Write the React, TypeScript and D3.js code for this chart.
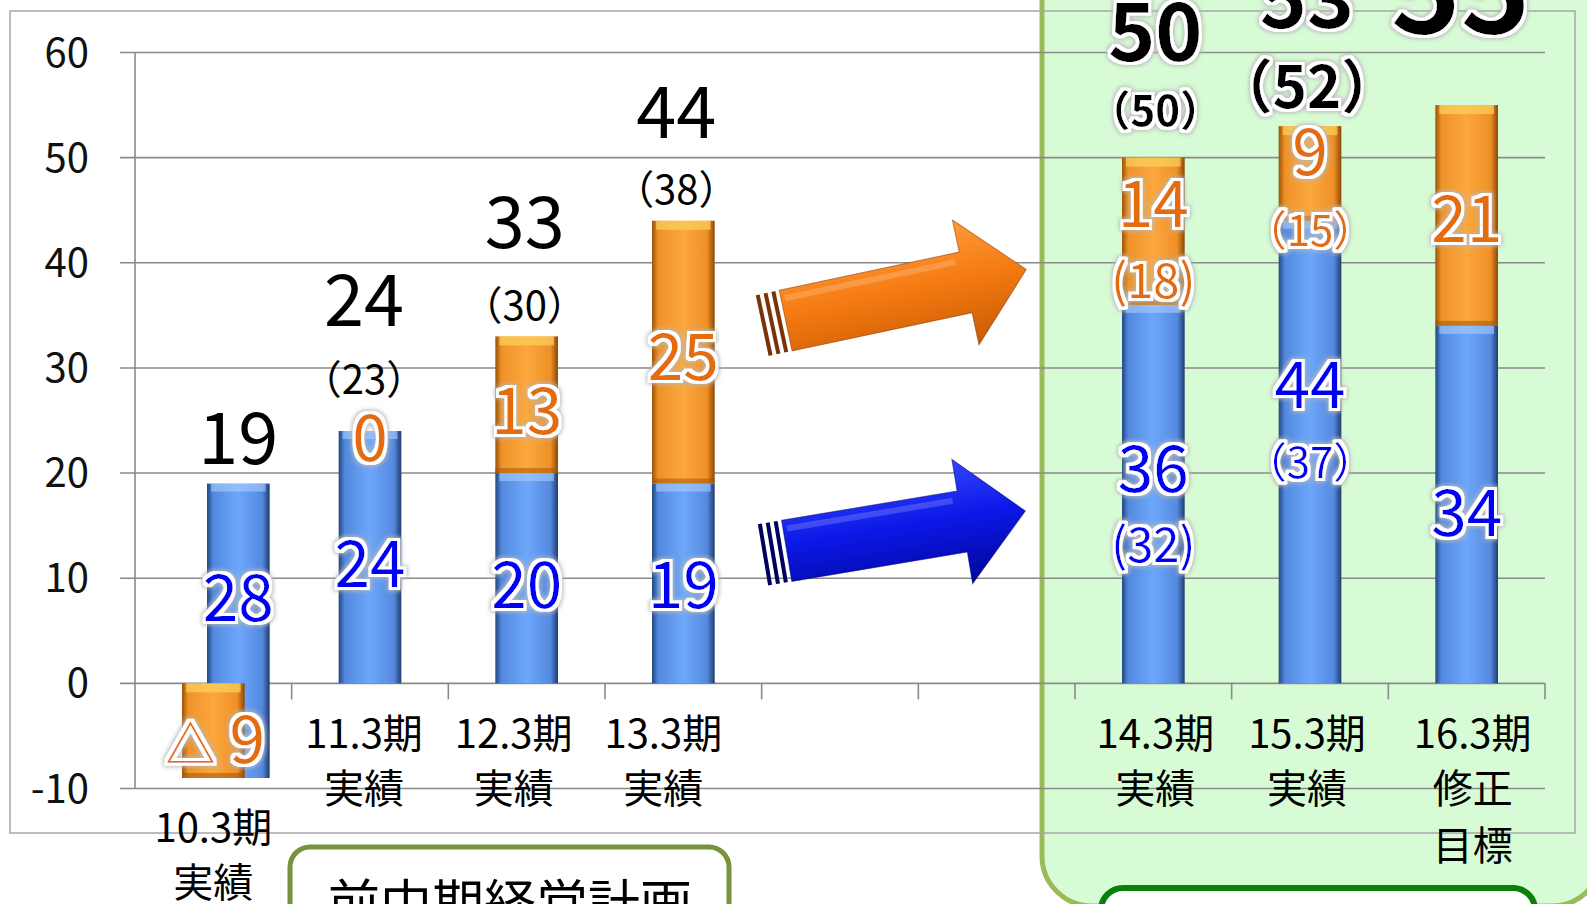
import React from 'react';
import * as d3 from 'd3';

const W = 1587;
const H = 904;

// data
const categories = ['10.3期', '11.3期', '12.3期', '13.3期', '14.3期', '15.3期', '16.3期'];
const subLabels = [['実績'], ['実績'], ['実績'], ['実績'], ['実績'], ['実績'], ['修正', '目標']];
const blueValues = [28, 24, 20, 19, 36, 44, 34];
const orangeValues = [-9, 0, 13, 25, 14, 9, 21];
const totals = [19, 24, 33, 44, 50, 53, 55];
const planTotals = [null, 23, 30, 38, 50, 52, null];
const planOrange = [null, null, null, null, 18, 15, null];
const planBlue = [null, null, null, null, 32, 37, null];
const yTicks = [-10, 0, 10, 20, 30, 40, 50, 60];
const boxTitle = '前中期経営計画';

// layout nudges (pixels), one per category
const blueShift = [25, 0, 0, 0, 0, 0, 0];
const totalFont = [72, 72, 72, 72, 80, 80, 118];
const totalBold = [false, false, false, false, true, true, true];
const totalDy = [-20, -105, -88, -83, -97, -98, -72];
const totalDx = [0, -6, -2, -7, 2, -3, -6];
const planFont = [0, 40, 40, 40, 42, 58, 0];
const planDy = [0, -37, -16, -17, -32, -18, 0];
const blueDy = [-10, 30, 30, 25, -2, -44, 31];
const orangeDy = [32, 30, 29, 28, -4, 2, 27];
const innerPlanAscii = [false, false, false, false, true, false, false];
const xLabelDx = [0, -6, -13, -20, 2, -3, 6];
const xLabelTop = [842, 748, 748, 748, 748, 748, 748];

const FONT = '"Noto Sans CJK JP", "Noto Sans", sans-serif';
const ORANGE_TXT = '#e46c0a';
const BLUE_TXT = '#0000f5';

const slots = [...categories.slice(0, 4), 'gap-a', 'gap-b', ...categories.slice(4)];

const x = d3.scaleBand<string>().domain(slots).range([135, 1545]).paddingInner(0.6).paddingOuter(0.3);
const y = d3.scaleLinear().domain([-10, 60]).range([788.5, 52.5]);

function fmt(v: number) {
  return v < 0 ? `△ ${-v}` : `${v}`;
}

function Arrow(props: { tx: number; ty: number; angle: number; len: number; hb: number; sh: number; hh: number; grad: string; dark: string }) {
  const { tx, ty, angle, len, hb, sh, hh, grad, dark } = props;
  const path = `M0,${-sh} L${hb},${-sh} L${hb},${-hh} L${len},0 L${hb},${hh} L${hb},${sh} L0,${sh} Z`;
  return (
    <g transform={`translate(${tx},${ty}) rotate(${angle})`}>
      {[-24, -16, -8].map((s) => (
        <rect key={s} x={s} y={-sh} width={4} height={sh * 2} fill={dark} />
      ))}
      <path d={path} fill={`url(#${grad})`} stroke={dark} strokeWidth={1} strokeOpacity={0.5} />
      <rect x={4} y={-sh + 6} width={hb - 10} height={6} fill="#fff" opacity={0.18} />
    </g>
  );
}

export default function App() {
  const step = x.step();
  const bw = x.bandwidth();
  const x0 = x.range()[0];
  const boundaries = d3.range(1, slots.length + 1).map((i) => x0 + i * step);

  const bars = categories.map((c, i) => {
    const o = orangeValues[i];
    const bBase = o < 0 ? o : 0;
    const bTop = bBase + blueValues[i];
    const oFrom = o < 0 ? 0 : bTop;
    const oTo = o < 0 ? o : bTop + o;
    const cx = (x(c) as number) + bw / 2;
    return { c, i, cx, bx: cx + blueShift[i], bBase, bTop, oFrom, oTo };
  });

  const glowText = {
    paintOrder: 'stroke' as const,
    stroke: '#fff',
    strokeWidth: 6,
    strokeLinejoin: 'round' as const,
  };

  return (
    <svg width={W} height={H} style={{ position: 'absolute', left: 0, top: 0, background: '#fff' }} fontFamily={FONT}>
      <defs>
        <linearGradient id="gBlue" x1="0" x2="1" y1="0" y2="0">
          <stop offset="0%" stopColor="#22477f" />
          <stop offset="10%" stopColor="#5289de" />
          <stop offset="50%" stopColor="#6da7fa" />
          <stop offset="88%" stopColor="#5589e0" />
          <stop offset="100%" stopColor="#1f3c6e" />
        </linearGradient>
        <linearGradient id="gOrange" x1="0" x2="1" y1="0" y2="0">
          <stop offset="0%" stopColor="#9c5208" />
          <stop offset="10%" stopColor="#ef9228" />
          <stop offset="50%" stopColor="#fba83e" />
          <stop offset="88%" stopColor="#ee9026" />
          <stop offset="100%" stopColor="#8c4806" />
        </linearGradient>
        <linearGradient id="aOrange" x1="0" x2="0" y1="0" y2="1">
          <stop offset="0%" stopColor="#ff9a3a" />
          <stop offset="45%" stopColor="#f57b12" />
          <stop offset="100%" stopColor="#c95a04" />
        </linearGradient>
        <linearGradient id="aBlue" x1="0" x2="0" y1="0" y2="1">
          <stop offset="0%" stopColor="#3445ff" />
          <stop offset="45%" stopColor="#0c18e8" />
          <stop offset="100%" stopColor="#00069a" />
        </linearGradient>
        <filter id="glow" x="-30%" y="-30%" width="160%" height="160%">
          <feMorphology in="SourceAlpha" operator="dilate" radius="4" result="d" />
          <feGaussianBlur in="d" stdDeviation="2" result="b" />
          <feFlood floodColor="#b8b8b8" />
          <feComposite in2="b" operator="in" result="g" />
          <feMorphology in="SourceAlpha" operator="dilate" radius="3" result="d2" />
          <feFlood floodColor="#ffffff" />
          <feComposite in2="d2" operator="in" result="w" />
          <feMerge>
            <feMergeNode in="g" />
            <feMergeNode in="w" />
            <feMergeNode in="SourceGraphic" />
          </feMerge>
        </filter>
      </defs>

      {/* green panel behind the new plan columns */}
      <rect x={1042} y={-60} width={560} height={966} rx={50} fill="#d7fcd5" stroke="#9bbb59" strokeWidth={5} />

      {/* chart frame */}
      <rect x={10} y={11} width={1565} height={822} fill="none" stroke="#a6a6a6" strokeWidth={1.5} />

      {/* grid */}
      {yTicks.map((t) => (
        <line key={t} x1={120} x2={1545} y1={y(t)} y2={y(t)} stroke="#8a8a8a" strokeWidth={1.6} />
      ))}
      <line x1={x0} x2={x0} y1={y(60)} y2={y(-10)} stroke="#8a8a8a" strokeWidth={1.6} />
      {boundaries.map((b) => (
        <line key={b} x1={b} x2={b} y1={y(0)} y2={y(0) + 16} stroke="#8a8a8a" strokeWidth={1.6} />
      ))}
      {yTicks.map((t) => (
        <text key={t} x={89} y={y(t) + 14} textAnchor="end" fontSize={40} fill="#111">
          {t}
        </text>
      ))}

      {/* bars */}
      {bars.map((b) => (
        <g key={b.c}>
          <rect x={b.bx - bw / 2} y={y(b.bTop)} width={bw} height={y(b.bBase) - y(b.bTop)} fill="url(#gBlue)" />
          <rect x={b.bx - bw / 2 + 4} y={y(b.bTop)} width={bw - 8} height={8} fill="#a9cdff" opacity={0.6} />
          {b.oTo !== b.oFrom && (
            <g>
              <rect
                x={b.cx - bw / 2}
                y={y(Math.max(b.oFrom, b.oTo))}
                width={bw}
                height={Math.abs(y(b.oFrom) - y(b.oTo))}
                fill="url(#gOrange)"
              />
              <rect x={b.cx - bw / 2 + 4} y={y(Math.max(b.oFrom, b.oTo))} width={bw - 8} height={9} fill="#fbd25e" opacity={0.7} />
              <rect x={b.cx - bw / 2} y={y(Math.min(b.oFrom, b.oTo)) - 5} width={bw} height={5} fill="#a4560a" opacity={0.55} />
            </g>
          )}
        </g>
      ))}

      {/* values inside bars */}
      {bars.map((b) => {
        const i = b.i;
        const bMid = y((b.bBase + b.bTop) / 2) + blueDy[i];
        const oMid = y((b.oFrom + b.oTo) / 2) + orangeDy[i];
        const ov = orangeValues[i];
        const pb = planBlue[i];
        const po = planOrange[i];
        const paren = (v: number) => (innerPlanAscii[i] ? `(${v})` : `（${v}）`);
        const pSize = innerPlanAscii[i] ? 47 : 42;
        return (
          <g key={b.c} filter="url(#glow)">
            <text x={b.bx} y={bMid} textAnchor="middle" fontSize={64} fill={BLUE_TXT}>
              {blueValues[i]}
            </text>
            {pb !== null && (
              <text x={b.bx} y={bMid + 70} textAnchor="middle" fontSize={pSize} fill={BLUE_TXT}>
                {paren(pb)}
              </text>
            )}
            {ov < 0 ? (
              <text x={b.cx + 2} y={oMid} textAnchor="middle" fontSize={64} fill={ORANGE_TXT}>
                <tspan fontSize={50}>△</tspan>
                <tspan dx={14}>{-ov}</tspan>
              </text>
            ) : (
              <text x={b.cx} y={oMid} textAnchor="middle" fontSize={64} fill={ORANGE_TXT}>
                {fmt(ov)}
              </text>
            )}
            {po !== null && (
              <text x={b.cx} y={oMid + 71} textAnchor="middle" fontSize={pSize} fill={ORANGE_TXT}>
                {paren(po)}
              </text>
            )}
          </g>
        );
      })}

      {/* totals and plan totals */}
      {bars.map((b) => {
        const i = b.i;
        const top = y(totals[i]);
        const pt = planTotals[i];
        const bold = totalBold[i];
        return (
          <g key={b.c} filter={bold ? 'url(#glow)' : undefined}>
            <text x={b.bx + totalDx[i]} y={top + totalDy[i]} textAnchor="middle" fontSize={totalFont[i]} fontWeight={bold ? 700 : 400} fill="#000">
              {totals[i]}
            </text>
            {pt !== null && (
              <text x={b.bx + totalDx[i]} y={top + planDy[i]} textAnchor="middle" fontSize={planFont[i]} fontWeight={bold ? 700 : 400} fill="#000">
                {`（${pt}）`}
              </text>
            )}
          </g>
        );
      })}

      {/* category labels */}
      {bars.map((b) => {
        const i = b.i;
        const lx = b.cx + xLabelDx[i];
        return (
          <text key={b.c} x={lx} y={xLabelTop[i]} textAnchor="middle" fontSize={40} fill="#000">
            <tspan x={lx}>{categories[i]}</tspan>
            {subLabels[i].map((s, k) => (
              <tspan key={k} x={lx} dy={k === 0 ? 55 : 57}>
                {s}
              </tspan>
            ))}
          </text>
        );
      })}

      {/* arrows towards the new plan */}
      <Arrow tx={boundaries[3] + 24} ty={y(34.5)} angle={-12} len={246} hb={184} sh={31} hh={64} grad="aOrange" dark="#7a3306" />
      <Arrow tx={boundaries[3] + 25} ty={y(12.6)} angle={-9.5} len={242} hb={178} sh={31} hh={63} grad="aBlue" dark="#00005e" />

      {/* bottom boxes */}
      <rect x={290} y={847} width={439} height={90} rx={20} fill="#fff" stroke="#77933c" strokeWidth={5} />
      <text x={510} y={923} textAnchor="middle" fontSize={52} fill="#000">
        {boxTitle}
      </text>
      <rect x={1101} y={888} width={434} height={70} rx={22} fill="#fff" stroke="#0a800a" strokeWidth={6} />
    </svg>
  );
}
